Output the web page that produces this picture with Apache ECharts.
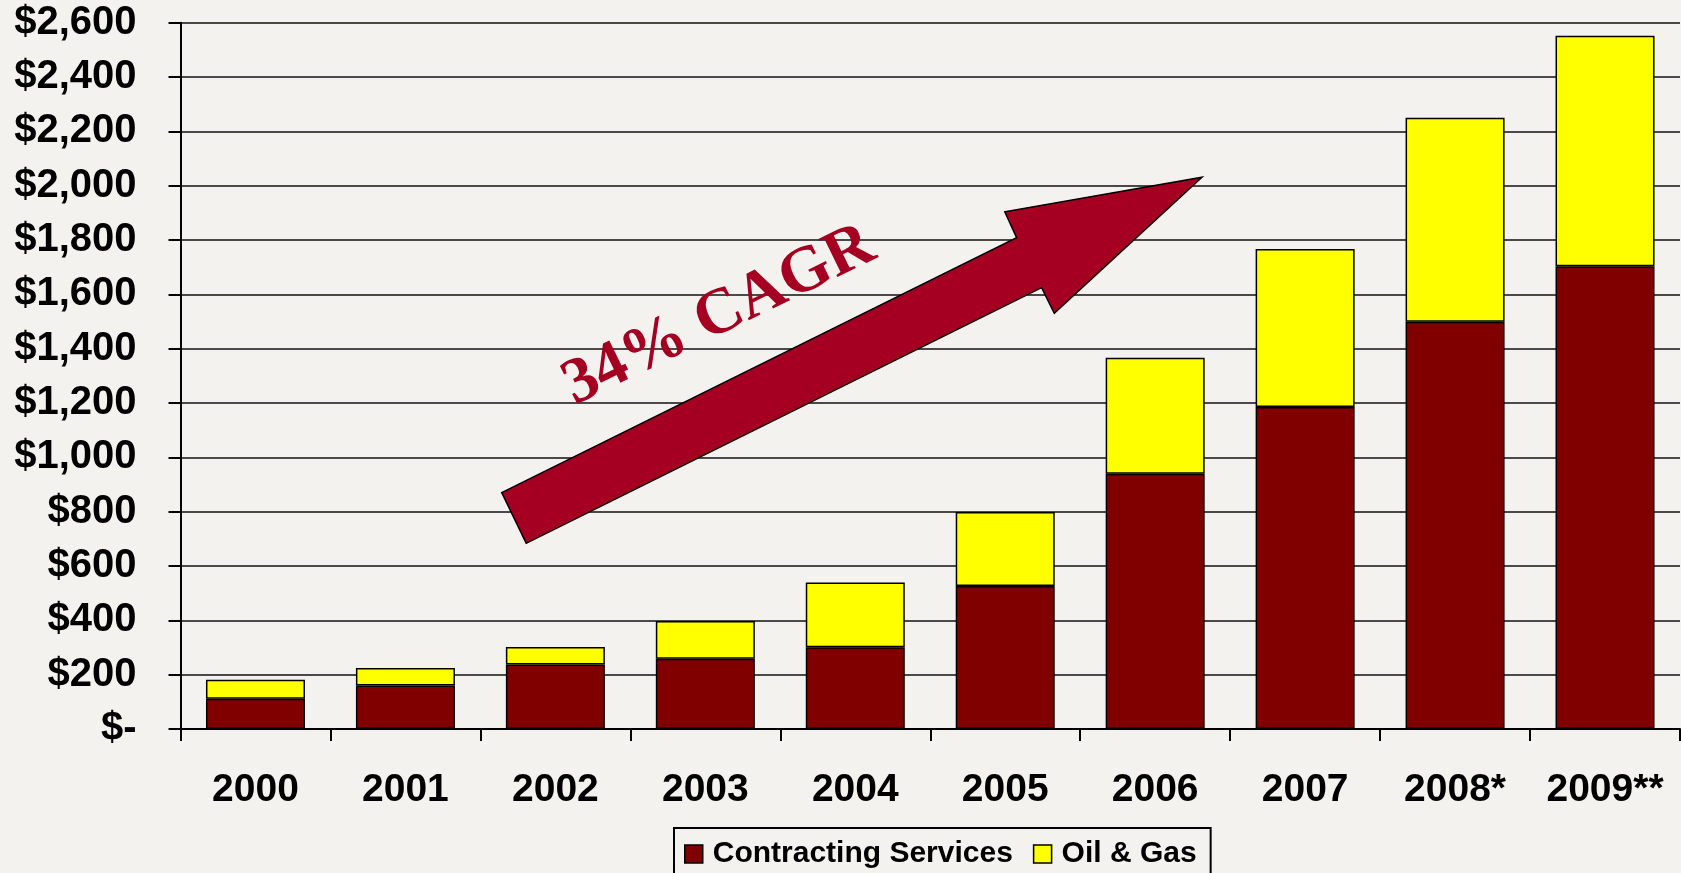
<!DOCTYPE html>
<html>
<head>
<meta charset="utf-8">
<script src="https://cdn.jsdelivr.net/npm/echarts@6/dist/echarts.min.js"></script>
<style>
html,body{margin:0;padding:0;background:#F3F2EE;}
#chart{width:1681px;height:873px;}
</style>
</head>
<body>
<div id="chart"></div>
<script>
const categories = ['2000','2001','2002','2003','2004','2005','2006','2007','2008*','2009**'];
const contractingServices = [111, 160, 237, 259, 301, 526, 940, 1185, 1499, 1703];
const oilAndGas = [70, 65, 65, 139, 238, 273, 427, 582, 751, 849];
const seriesNames = ['Contracting Services', 'Oil & Gas'];
const annotationText = '34% CAGR';

const chart = echarts.init(document.getElementById('chart'));
const arrowPts = [[501.7,492.7],[1016.6,237.7],[1004.8,211.7],[1202,177.3],[1054.3,313.3],[1041.6,287.7],[526.2,543.3]];

chart.setOption({
  backgroundColor: '#F3F2EE',
  animation: false,
  grid: { left: 180.5, right: 1, top: 22.7, bottom: 144, containLabel: false },
  legend: {
    data: seriesNames,
    left: 674, top: 828,
    orient: 'horizontal',
    padding: [11, 14, 20, 10],
    borderColor: '#000', borderWidth: 2,
    itemWidth: 18, itemHeight: 18, itemGap: 20,
    icon: 'rect',
    itemStyle: { borderColor: '#000', borderWidth: 1.5 },
    textStyle: { fontFamily: 'Liberation Sans, Arial, sans-serif', fontWeight: 'bold', fontSize: 30, color: '#000', padding: [0,0,0,5] }
  },
  xAxis: {
    type: 'category',
    data: categories,
    boundaryGap: true,
    axisLine: { lineStyle: { color: '#000', width: 2 } },
    axisTick: { show: true, length: 12, inside: false, alignWithLabel: false, lineStyle: { color: '#000', width: 2 } },
    axisLabel: { margin: 42, fontFamily: 'Liberation Sans, Arial, sans-serif', fontWeight: 'bold', fontSize: 39, color: '#000', interval: 0 }
  },
  yAxis: {
    type: 'value',
    min: 0, max: 2600, interval: 200,
    axisLine: { show: true, lineStyle: { color: '#000', width: 2 } },
    axisTick: { show: true, length: 12, lineStyle: { color: '#000', width: 2 } },
    splitLine: { show: true, lineStyle: { color: '#111', width: 1.6 } },
    axisLabel: {
      margin: 44, fontFamily: 'Liberation Sans, Arial, sans-serif', fontWeight: 'bold', fontSize: 40, color: '#000',
      formatter: v => v === 0 ? '$-' : '$' + v.toLocaleString('en-US')
    }
  },
  series: [
    { name: seriesNames[0], type: 'bar', stack: 'total', data: contractingServices, barWidth: 99,
      itemStyle: { color: '#800000', borderColor: '#000', borderWidth: 1.5 } },
    { name: seriesNames[1], type: 'bar', stack: 'total', data: oilAndGas, barWidth: 99,
      itemStyle: { color: '#FFFF00', borderColor: '#000', borderWidth: 1.5 } }
  ],
  graphic: [
    { type: 'polygon', z: 100, shape: { points: arrowPts }, style: { fill: '#A50021', stroke: '#000', lineWidth: 1.5 } },
    { type: 'text', z: 101, x: 719, y: 316, rotation: 26 * Math.PI / 180,
      style: { text: annotationText, fill: '#A50021', font: 'bold 65px "Liberation Serif", "Times New Roman", serif', align: 'center', verticalAlign: 'middle' } }
  ]
});
</script>
</body>
</html>
